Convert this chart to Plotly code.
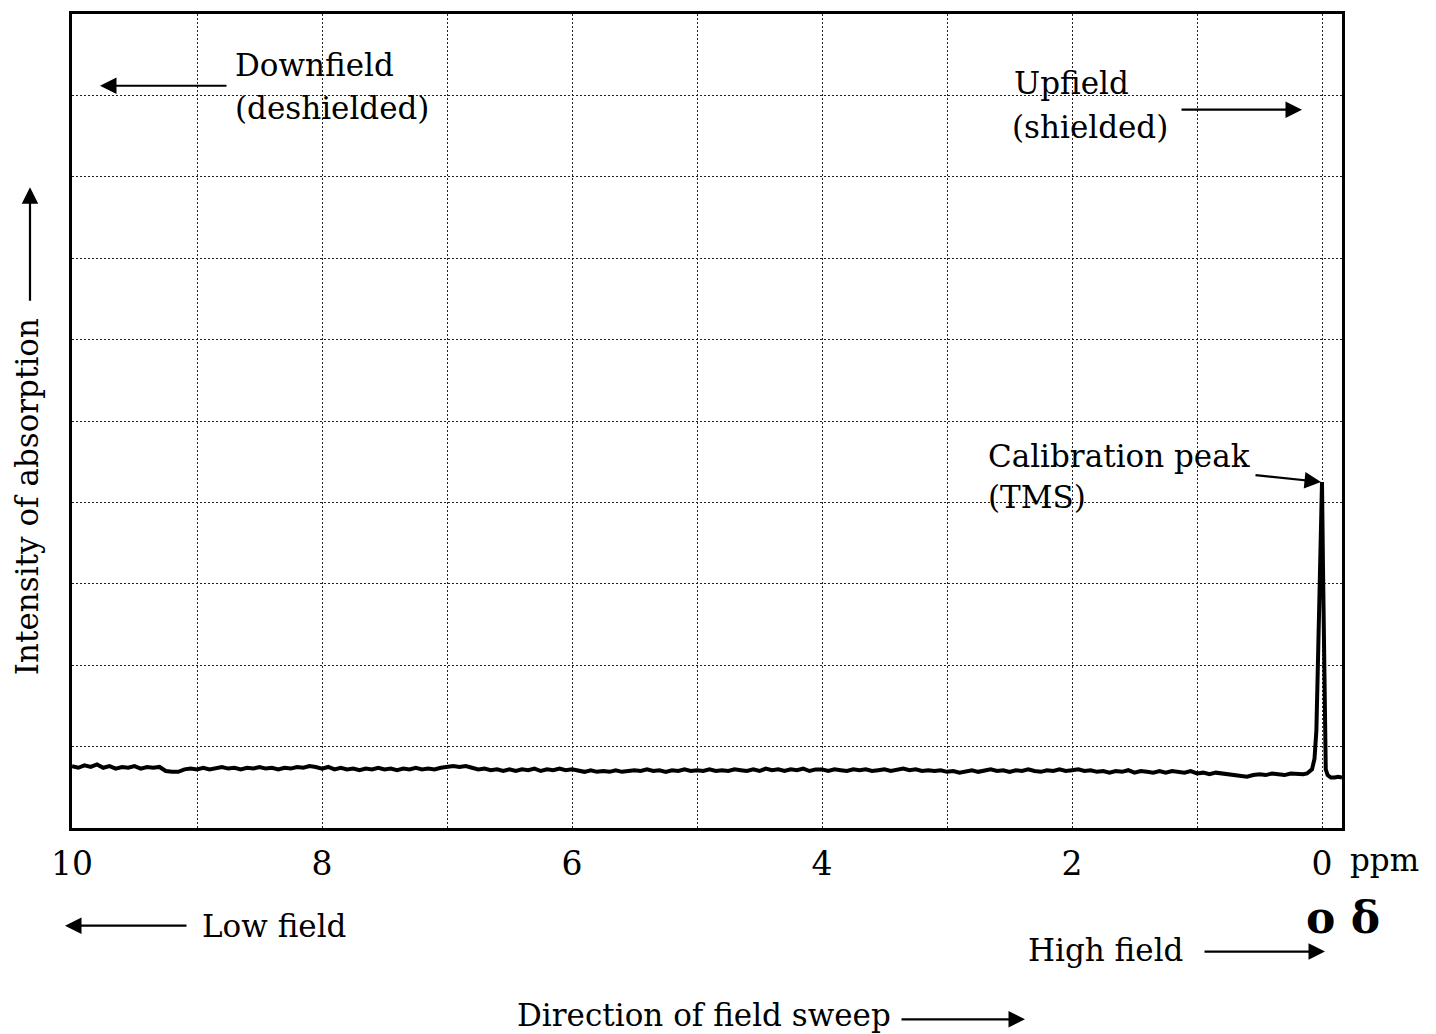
import numpy as np
import plotly.graph_objects as go

# Chemical shift axis (ppm), tick labels every 2 ppm, grid every 1 ppm
grid_ppm = [10, 9, 8, 7, 6, 5, 4, 3, 2, 1, 0]
tick_text = ["10", "", "8", "", "6", "", "4", "", "2", "", "0"]

# Baseline trace, sampled every 0.05 ppm from 10.00 down to 0.15 ppm
baseline_ppm = np.round(np.arange(10.0, 0.149, -0.05), 2)
baseline_int = [
    0.76, 0.74, 0.77, 0.75, 0.78, 0.74, 0.76, 0.73, 0.75, 0.74,
    0.76, 0.73, 0.75, 0.74, 0.75, 0.70, 0.69, 0.69, 0.72, 0.73,
    0.72, 0.74, 0.72, 0.73, 0.75, 0.73, 0.74, 0.72, 0.74, 0.73,
    0.75, 0.73, 0.74, 0.72, 0.74, 0.73, 0.75, 0.74, 0.76, 0.75,
    0.73, 0.75, 0.72, 0.74, 0.72, 0.73, 0.71, 0.73, 0.72, 0.74,
    0.72, 0.73, 0.71, 0.73, 0.72, 0.74, 0.72, 0.73, 0.72, 0.74,
    0.75, 0.76, 0.75, 0.76, 0.74, 0.72, 0.73, 0.71, 0.72, 0.70,
    0.72, 0.70, 0.72, 0.71, 0.73, 0.70, 0.72, 0.71, 0.73, 0.71,
    0.72, 0.70, 0.69, 0.71, 0.69, 0.70, 0.69, 0.71, 0.69, 0.70,
    0.71, 0.70, 0.72, 0.70, 0.71, 0.69, 0.71, 0.70, 0.72, 0.70,
    0.71, 0.70, 0.72, 0.70, 0.71, 0.70, 0.72, 0.71, 0.70, 0.72,
    0.70, 0.73, 0.71, 0.72, 0.70, 0.72, 0.71, 0.73, 0.70, 0.72,
    0.72, 0.70, 0.72, 0.71, 0.70, 0.72, 0.71, 0.72, 0.70, 0.71,
    0.72, 0.70, 0.71, 0.73, 0.71, 0.72, 0.70, 0.71, 0.70, 0.71,
    0.69, 0.70, 0.68, 0.70, 0.71, 0.69, 0.70, 0.72, 0.70, 0.71,
    0.69, 0.71, 0.70, 0.72, 0.70, 0.69, 0.71, 0.70, 0.72, 0.70,
    0.71, 0.72, 0.70, 0.71, 0.69, 0.70, 0.68, 0.70, 0.69, 0.71,
    0.68, 0.70, 0.69, 0.68, 0.70, 0.68, 0.70, 0.69, 0.68, 0.70,
    0.67, 0.68, 0.66, 0.68, 0.67, 0.66, 0.64, 0.63, 0.63, 0.65,
    0.66, 0.65, 0.67, 0.66, 0.65, 0.67, 0.66, 0.66,
]

# TMS calibration peak and the trace to the right of it
peak_ppm = [0.12, 0.10, 0.08, 0.06, 0.045, 0.03, 0.015, 0.0,
            -0.008, -0.016, -0.022, -0.03, -0.045, -0.07, -0.10, -0.13, -0.16]
peak_int = [0.67, 0.69, 0.72, 0.85, 1.20, 2.20, 3.30, 4.25,
            3.20, 1.80, 1.00, 0.72, 0.65, 0.62, 0.62, 0.63, 0.62]

tms_ppm = 0.0
tms_int = 4.25

ppm = list(baseline_ppm) + peak_ppm
intensity = baseline_int + peak_int

SERIF = "DejaVu Serif"
BIG = 31

fig = go.Figure()
fig.add_trace(go.Scatter(
    x=ppm, y=intensity, mode="lines",
    line=dict(color="black", width=4, shape="linear"),
    hoverinfo="skip", showlegend=False,
))

# Convert figure pixel positions to paper coordinates
L, R, T, B = 72, 1342, 11, 828


def px(xp):
    return (xp - L) / (R - L)


def py(yp):
    return (B - yp) / (B - T)


def label(text, x, y, size=BIG, xanchor="left", angle=0, bold=False):
    fig.add_annotation(
        text=f"<b>{text}</b>" if bold else text,
        x=px(x), y=py(y), xref="paper", yref="paper",
        xanchor=xanchor, yanchor="middle", showarrow=False,
        textangle=angle, font=dict(family=SERIF, size=size, color="black"),
    )


def arrow(head_x, head_y, dx, dy):
    fig.add_annotation(
        text="", x=px(head_x), y=py(head_y), xref="paper", yref="paper",
        ax=dx, ay=dy, showarrow=True, arrowhead=2, arrowsize=1.5,
        arrowwidth=2.2, arrowcolor="black", standoff=0,
    )


label("Downfield", 233, 62)
label("(deshielded)", 233, 105)
arrow(100, 83, 128, 0)

label("Upfield", 1012, 80)
label("(shielded)", 1010, 124)
arrow(1302, 107, -122, 0)

label("Calibration peak", 986, 455)
label("(TMS)", 986, 496)
fig.add_annotation(
    text="", x=tms_ppm, y=tms_int, xref="x", yref="y",
    ax=-68, ay=-7, showarrow=True, arrowhead=2, arrowsize=1.5,
    arrowwidth=2.2, arrowcolor="black", standoff=1,
)

label("Intensity of absorption", 27, 496, xanchor="center", angle=-90)
arrow(30, 185, 0, 115)

label("Low field", 200, 926)
arrow(65, 926, 123, 0)

label("High field", 1026, 950)
arrow(1325, 952, -122, 0)

label("Direction of field sweep", 515, 1016)
arrow(1025, 1020, -125, 0)

label("ppm", 1348, 860)
label("o δ", 1343, 918, size=44, xanchor="center", bold=True)

fig.update_xaxes(
    range=[10.0, -0.16], tickmode="array", tickvals=grid_ppm, ticktext=tick_text,
    showgrid=True, gridcolor="#222222", gridwidth=1, griddash="2px,2px",
    showline=True, linecolor="black", linewidth=3, mirror=True,
    ticks="", ticklabelstandoff=4, zeroline=False,
    tickfont=dict(family=SERIF, size=33, color="black"),
)
fig.update_yaxes(
    range=[0, 10], dtick=1, showticklabels=False,
    showgrid=True, gridcolor="#222222", gridwidth=1, griddash="2px,2px",
    showline=True, linecolor="black", linewidth=3, mirror=True,
    ticks="", zeroline=False,
)
fig.update_layout(
    width=1436, height=1034,
    margin=dict(l=L, r=1436 - R, t=T, b=1034 - B),
    paper_bgcolor="white", plot_bgcolor="white",
    showlegend=False,
)

fig.write_html("out.html")
